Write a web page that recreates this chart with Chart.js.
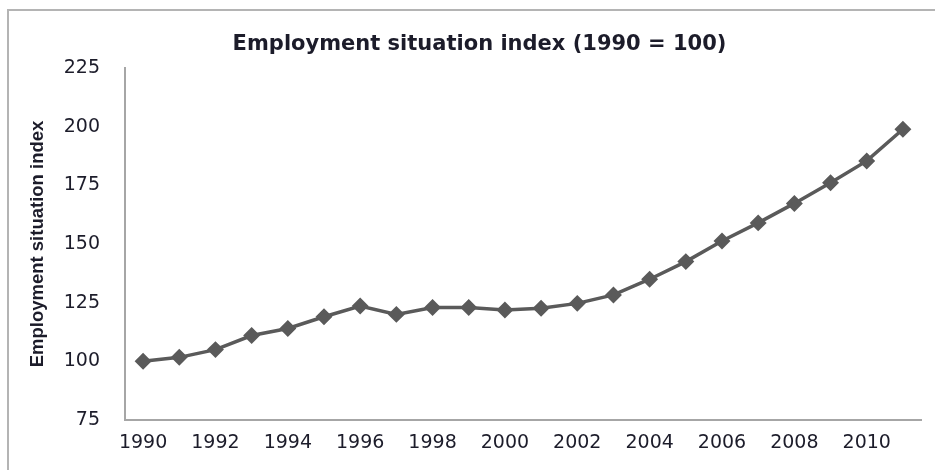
<!DOCTYPE html>
<html>
<head>
<meta charset="utf-8">
<title>Employment situation index</title>
<script src="https://cdn.jsdelivr.net/npm/chart.js@4"></script>
<style>
  html, body { margin: 0; background: #fff; overflow: hidden; width: 935px; height: 470px; }
  #frame {
    position: absolute; left: 7px; top: 9px; right: -20px; bottom: -20px;
    border-left: 2px solid #b4b4b4; border-top: 2px solid #b4b4b4;
  }
  #chart { position: absolute; left: 0; top: 0; }
</style>
</head>
<body>
<div id="frame"></div>
<canvas id="chart" width="935" height="470"></canvas>
<script>
// index values, 1990 = 100
const years = ['1990', '1991', '1992', '1993', '1994', '1995', '1996', '1997', '1998', '1999', '2000',
               '2001', '2002', '2003', '2004', '2005', '2006', '2007', '2008', '2009', '2010', '2011'];
const indexValues = [100, 101.7, 105, 111, 114, 119, 123.6, 120, 122.9, 122.9, 121.9,
                     122.6, 124.7, 128.3, 135, 142.5, 151.3, 159, 167.3, 176.1, 185.4, 198.9];
const yTicks = [75, 100, 125, 150, 175, 200, 225];

const textColor = '#1c1c2a';
const axisColor = '#a6a6a6';

const ctx = document.getElementById('chart').getContext('2d');
new Chart(ctx, {
  type: 'line',
  data: {
    labels: years,
    datasets: [{
      label: 'Employment situation index',
      data: indexValues,
      borderColor: '#5a5a5a',
      backgroundColor: '#5a5a5a',
      borderWidth: 3.5,
      pointStyle: 'rectRot',
      pointRadius: 6,
      tension: 0
    }]
  },
  options: {
    responsive: false,
    animation: false,
    layout: { padding: { left: 38, top: 0, right: 14, bottom: 0 } },
    plugins: {
      legend: { display: false },
      tooltip: { enabled: false },
      title: {
        display: true,
        text: 'Employment situation index (1990 = 100)',
        color: textColor,
        font: { family: 'DejaVu Sans', size: 21, weight: 'bold' },
        padding: { top: 32.4, bottom: 10.4 }
      }
    },
    scales: {
      x: {
        offset: true,
        grid: { display: false, drawTicks: false },
        border: { display: true, color: axisColor, width: 2 },
        ticks: {
          autoSkip: false,
          maxRotation: 0,
          padding: 12,
          color: textColor,
          font: { family: 'DejaVu Sans', size: 19 },
          callback: (v, i) => (i % 2 === 0 ? years[i] : '')
        },
        afterFit: s => { s.height = 50; }
      },
      y: {
        min: 75,
        max: 225,
        afterBuildTicks: s => { s.ticks = yTicks.map(v => ({ value: v })); },
        grid: { display: false, drawTicks: false },
        border: { display: true, color: axisColor, width: 2 },
        ticks: {
          padding: 25,
          color: textColor,
          font: { family: 'DejaVu Sans', size: 19 }
        },
        title: {
          display: true,
          text: 'Employment situation index',
          color: textColor,
          font: { family: 'Liberation Sans', size: 18.5, weight: 'bold' },
          padding: { top: -11.1, bottom: 0 }
        },
        afterFit: s => { s.width = 87; }
      }
    }
  }
});
</script>
</body>
</html>
